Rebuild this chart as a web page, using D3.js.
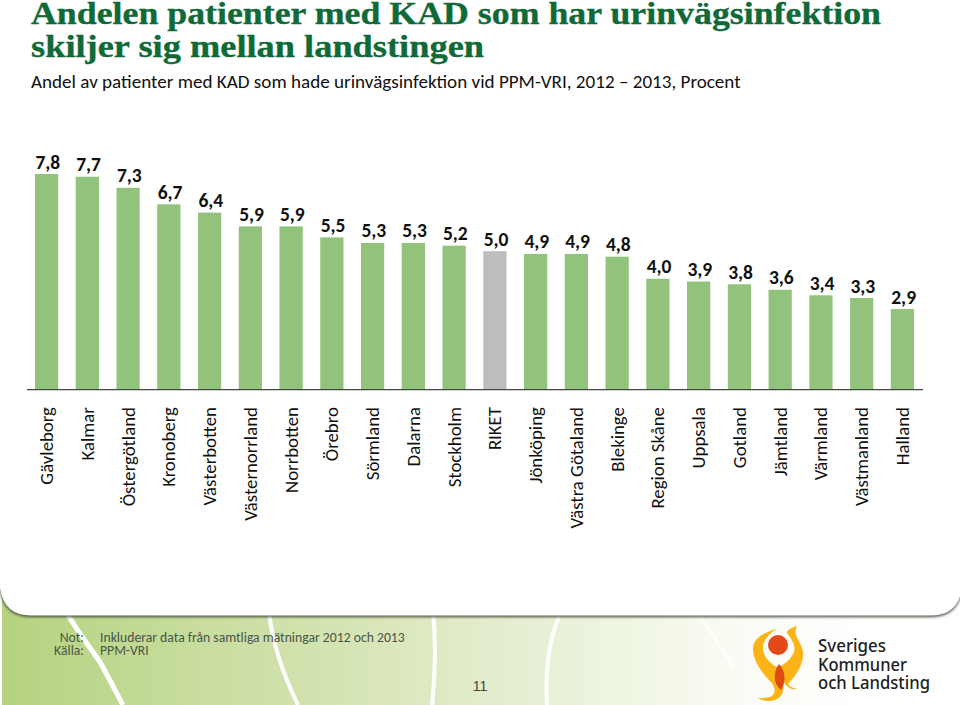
<!DOCTYPE html>
<html><head><meta charset="utf-8">
<script src="https://cdnjs.cloudflare.com/ajax/libs/d3/7.8.5/d3.min.js"></script>
<style>html,body{margin:0;padding:0;background:#fff}svg{display:block}</style>
</head><body><svg id="c" width="960" height="705"></svg>
<script>
const categories=["Gävleborg","Kalmar","Östergötland","Kronoberg","Västerbotten","Västernorrland","Norrbotten","Örebro","Sörmland","Dalarna","Stockholm","RIKET","Jönköping","Västra Götaland","Blekinge","Region Skåne","Uppsala","Gotland","Jämtland","Värmland","Västmanland","Halland"];
const values=[7.8,7.7,7.3,6.7,6.4,5.9,5.9,5.5,5.3,5.3,5.2,5.0,4.9,4.9,4.8,4.0,3.9,3.8,3.6,3.4,3.3,2.9];
const highlighted=["RIKET"];
const titleLines=["Andelen patienter med KAD som har urinvägsinfektion","skiljer sig mellan landstingen"];
const subtitle="Andel av patienter med KAD som hade urinvägsinfektion vid PPM-VRI, 2012 – 2013, Procent";
const noteKeys=["Not:","Källa:"];
const noteTexts=["Inkluderar data från samtliga mätningar 2012 och 2013","PPM-VRI"];
const logoLines=["Sveriges","Kommuner","och Landsting"];
const pageNumber="11";

const svg=d3.select("#c");
const defs=svg.append("defs");
const g=defs.append("linearGradient").attr("id","foot");
[[0,"#b5d280"],[0.33,"#d3e3b0"],[0.55,"#e6efd3"],[0.75,"#f8fbf2"],[0.9,"#ffffff"]].forEach(s=>g.append("stop").attr("offset",s[0]).attr("stop-color",s[1]));
const blur=defs.append("filter").attr("id","sh").attr("x","-5%").attr("y","-5%").attr("width","110%").attr("height","110%");
blur.append("feGaussianBlur").attr("stdDeviation",1.5);

// footer background and swooshes
svg.append("rect").attr("x",2).attr("y",560).attr("width",958).attr("height",145).attr("fill","url(#foot)");
const sw=svg.append("g").attr("fill","none").attr("stroke","#fff");
[["M66,612 C80,635 92,650 100,662 C110,680 116,692 123,705",5],
 ["M269,612 C272,640 280,668 298,705",4],
 ["M433,612 C436,640 435,675 432,705",4],
 ["M561,612 C548,640 545,670 547,705",4],
 ["M697,612 C712,632 722,650 734,668",2.5]]
 .forEach(d=>sw.append("path").attr("d",d[0]).attr("stroke-width",d[1]));

// white panel
const panel="M-2,-2 H962 V588 Q958,616 930,615.5 H32 Q4,616 0,588 Z";
svg.append("path").attr("d",panel).attr("fill","#3f4a38").attr("transform","translate(0,1.5)").attr("filter","url(#sh)");
svg.append("path").attr("d",panel).attr("fill","#fff");

// title
const font="Carlito,Lato,sans-serif";
const titleWidths=[850,453];
svg.append("g").selectAll("text").data(titleLines).join("text")
 .attr("x",31).attr("y",(d,i)=>24+i*33).attr("font-family","'Liberation Serif',serif").attr("font-weight",700)
 .attr("font-size",32).attr("fill","#0f6a38").attr("stroke","#0f6a38").attr("stroke-width",0.35)
 .attr("textLength",(d,i)=>titleWidths[i]).attr("lengthAdjust","spacingAndGlyphs").text(d=>d);
svg.append("text").attr("x",31).attr("y",88).attr("font-family",font).attr("font-size",19.1).attr("fill","#111").text(subtitle);

// chart
const x=d3.scaleBand().domain(categories).range([26,923]).paddingInner(0.43).paddingOuter(0.22);
const y=d3.scaleLinear().domain([0,7.8]).range([389,174]);
const c=svg.append("g");
c.selectAll("rect").data(categories).join("rect")
 .attr("x",d=>x(d)).attr("width",x.bandwidth())
 .attr("y",(d,i)=>y(values[i])).attr("height",(d,i)=>y(0)-y(values[i]))
 .attr("fill",d=>highlighted.includes(d)?"#bdbdbd":"#92c37c");
const xAxis=d3.axisBottom(x).tickSize(0).tickPadding(0);
const ax=c.append("g").attr("transform","translate(0,389.6)").call(xAxis);
ax.select(".domain").attr("d","M27,0H923").attr("stroke","#444").attr("stroke-width",1.4);
ax.selectAll("text").attr("font-family",font).attr("font-size",18.8).attr("fill","#111")
 .attr("text-anchor","end").attr("dy",null).attr("y",0)
 .attr("transform","translate(6.5,17.5) rotate(-90)");
c.selectAll("text.v").data(categories).join("text").attr("class","v")
 .attr("x",d=>x(d)+x.bandwidth()/2+1.2).attr("y",(d,i)=>y(values[i])-5.5)
 .attr("text-anchor","middle").attr("font-family",font).attr("font-weight",700).attr("font-size",19.5).attr("fill","#111")
 .text((d,i)=>values[i].toFixed(1).replace(".",","));

// notes
const n=svg.append("g").attr("font-family",font).attr("font-size",13.7).attr("fill","#4a5545");
n.selectAll("text.k").data(noteKeys).join("text").attr("class","k").attr("x",84).attr("y",(d,i)=>642+i*13).attr("text-anchor","end").text(d=>d);
n.selectAll("text.t").data(noteTexts).join("text").attr("class","t").attr("x",100).attr("y",(d,i)=>642+i*13).text(d=>d);
svg.append("text").attr("x",480).attr("y",691).attr("text-anchor","middle").attr("font-family","'Liberation Sans',sans-serif").attr("font-size",14).attr("fill","#444").text(pageNumber);

// logo
const l=svg.append("g");
l.append("path").attr("fill","#fbb315").attr("d","M777,629 C765,632 752,638 753,650 C754,664 765,676 771,682 C776,688 776,695 770,697 C766,698 762,698 758,698 C766,703 778,702 782,694 C786,684 781,676 778,668 C772,664 765,660 763,650 C762,642 768,634 777,629 Z");
l.append("path").attr("fill","#fbb315").attr("d","M797,626 C790,628 786,631 787,633 C792,640 796,646 794,652 C791,660 784,664 778,668 C780,676 783,680 785,684 C788,688 792,690 797,689 C792,688 789,686 788,684 C796,676 804,664 803,652 C802,642 792,636 797,626 Z");
l.append("circle").attr("cx",778).attr("cy",645).attr("r",10).attr("fill","#e24a17");
l.append("path").attr("fill","#dd4b12").attr("d","M779,664 C786,672 786,682 781,690 C773,684 773,672 779,664 Z");
l.selectAll("text").data(logoLines).join("text").attr("x",818).attr("y",(d,i)=>652+i*18.5)
 .attr("font-family","'Noto Sans',sans-serif").attr("font-size",17.5).attr("font-weight",500).attr("fill","#222")
 .attr("textLength",(d,i)=>[68,89,112][i]).attr("lengthAdjust","spacingAndGlyphs").text(d=>d);
</script></body></html>
